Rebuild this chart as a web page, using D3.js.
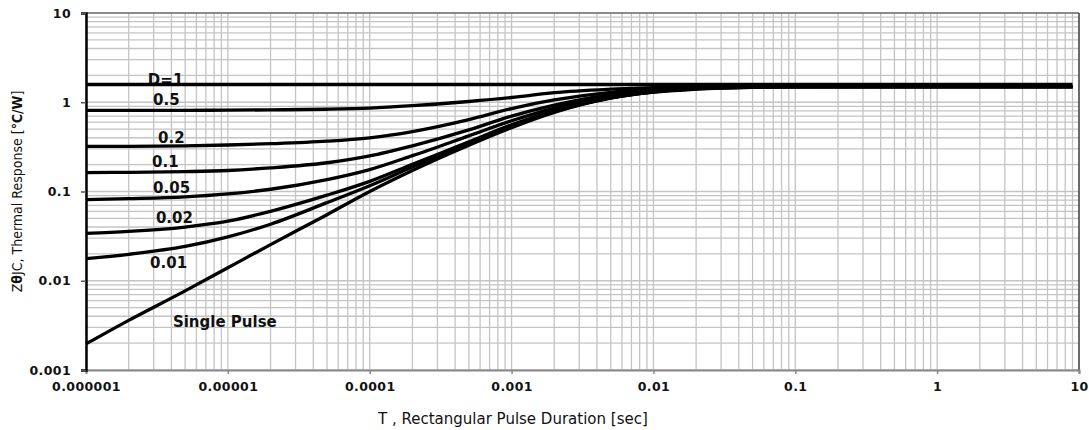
<!DOCTYPE html>
<html lang="en">
<head>
  <meta charset="UTF-8">
  <script src="https://d3js.org/d3.v7.min.js"></script>
  <title>Transient Thermal Response</title>
  <style>
    body { margin: 0; background: #fff; }
  </style>
</head>
<body>
  <script>
    // pulse durations (sec) where the curves were read
    const pulseT = [1e-6, 2e-6, 5e-6, 1e-5, 2e-5, 5e-5, 1e-4, 2e-4, 5e-4, 1e-3, 2e-3, 5e-3, 1e-2, 2e-2, 5e-2, 0.1, 1, 9]

    // Z thermal response (degC/W) for each duty cycle
    const dutyD1     = [1.58, 1.58, 1.58, 1.58, 1.58, 1.58, 1.58, 1.58, 1.58, 1.58, 1.58, 1.58, 1.58, 1.58, 1.58, 1.58, 1.58, 1.58]
    const duty05     = [0.81, 0.81, 0.812, 0.815, 0.822, 0.835, 0.86, 0.915, 1.02, 1.13, 1.28, 1.40, 1.46, 1.49, 1.50, 1.50, 1.50, 1.50]
    const duty02     = [0.32, 0.321, 0.325, 0.332, 0.343, 0.366, 0.40, 0.47, 0.64, 0.85, 1.06, 1.29, 1.40, 1.46, 1.49, 1.50, 1.50, 1.50]
    const duty01     = [0.163, 0.164, 0.167, 0.172, 0.184, 0.21, 0.25, 0.325, 0.49, 0.70, 0.93, 1.22, 1.36, 1.44, 1.49, 1.50, 1.50, 1.50]
    const duty005    = [0.081, 0.083, 0.087, 0.094, 0.106, 0.136, 0.176, 0.252, 0.42, 0.62, 0.86, 1.18, 1.34, 1.44, 1.49, 1.50, 1.50, 1.50]
    const duty002    = [0.034, 0.0357, 0.040, 0.0465, 0.060, 0.091, 0.130, 0.202, 0.36, 0.56, 0.80, 1.13, 1.31, 1.42, 1.48, 1.50, 1.50, 1.50]
    const duty001    = [0.0177, 0.0198, 0.0242, 0.031, 0.043, 0.075, 0.116, 0.188, 0.345, 0.54, 0.79, 1.12, 1.30, 1.41, 1.48, 1.50, 1.50, 1.50]
    const dutySingle = [0.00196, 0.0036, 0.0077, 0.014, 0.0254, 0.055, 0.10, 0.172, 0.33, 0.52, 0.77, 1.11, 1.30, 1.40, 1.47, 1.49, 1.50, 1.50]

    const seriesList = [dutyD1, duty05, duty02, duty01, duty005, duty002, duty001, dutySingle]

    // curve labels and where they sit (t, Z)
    const labelText = ["D=1", "0.5", "0.2", "0.1", "0.05", "0.02", "0.01", "Single Pulse"]
    const labelT = [2.73e-6, 2.97e-6, 3.22e-6, 2.92e-6, 2.97e-6, 3.11e-6, 2.83e-6, 4.1e-6]
    const labelZ = [1.55, 0.925, 0.346, 0.186, 0.095, 0.0438, 0.0140, 0.0030]

    const xTickLabels = ["0.000001", "0.00001", "0.0001", "0.001", "0.01", "0.1", "1", "10"]
    const yTickLabels = ["0.001", "0.01", "0.1", "1", "10"]

    const dimensions = {
      width: 1089,
      height: 430,
      margin: { top: 13, right: 10, bottom: 60, left: 86 }
    }
    dimensions.boundedWidth = dimensions.width - dimensions.margin.left - dimensions.margin.right
    dimensions.boundedHeight = dimensions.height - dimensions.margin.top - dimensions.margin.bottom

    const svg = d3.select("body")
        .append("svg")
        .attr("width", dimensions.width)
        .attr("height", dimensions.height)

    const bounds = svg.append("g")
        .attr("transform", `translate(${dimensions.margin.left},${dimensions.margin.top})`)

    const xScale = d3.scaleLog()
        .domain([1e-6, 10])
        .range([0, dimensions.boundedWidth])
    const yScale = d3.scaleLog()
        .domain([0.001, 10])
        .range([dimensions.boundedHeight, 0])

    // log grid: 1..9 in every decade
    const gridVals = (lo, hi) => {
      const out = []
      for (let e = Math.log10(lo); e < Math.log10(hi); e++) {
        for (let m = 1; m <= 9; m++) out.push(m * Math.pow(10, e))
      }
      out.push(hi)
      return out
    }

    bounds.append("g")
        .selectAll("line")
        .data(gridVals(1e-6, 10))
        .join("line")
        .attr("x1", d => xScale(d)).attr("x2", d => xScale(d))
        .attr("y1", 0).attr("y2", dimensions.boundedHeight)
        .attr("stroke", "#c4c4c4")
        .attr("stroke-width", 1.3)

    bounds.append("g")
        .selectAll("line")
        .data(gridVals(0.001, 10))
        .join("line")
        .attr("y1", d => yScale(d)).attr("y2", d => yScale(d))
        .attr("x1", 0).attr("x2", dimensions.boundedWidth)
        .attr("stroke", "#c4c4c4")
        .attr("stroke-width", 1.3)

    // frame: top and right dark grey
    bounds.append("line")
        .attr("x1", 0).attr("x2", dimensions.boundedWidth)
        .attr("y1", 0).attr("y2", 0)
        .attr("stroke", "#444").attr("stroke-width", 1.2)
    bounds.append("line")
        .attr("x1", dimensions.boundedWidth).attr("x2", dimensions.boundedWidth)
        .attr("y1", 0).attr("y2", dimensions.boundedHeight)
        .attr("stroke", "#444").attr("stroke-width", 1.5)

    // curve labels (drawn under the curves)
    bounds.append("g")
        .selectAll("text")
        .data(labelText)
        .join("text")
        .attr("x", (d, i) => xScale(labelT[i]))
        .attr("y", (d, i) => yScale(labelZ[i]))
        .attr("font-family", "DejaVu Sans, sans-serif")
        .attr("font-weight", "bold")
        .attr("font-size", 15)
        .attr("fill", "#111")
        .text(d => d)

    const line = d3.line()
        .x((d, i) => xScale(pulseT[i]))
        .y(d => yScale(d))
        .curve(d3.curveMonotoneX)

    bounds.append("g")
        .selectAll("path")
        .data(seriesList)
        .join("path")
        .attr("d", d => line(d))
        .attr("fill", "none")
        .attr("stroke", "#000")
        .attr("stroke-width", 3.3)

    // axes
    const xAxis = bounds.append("g")
        .attr("transform", `translate(0,${dimensions.boundedHeight})`)
        .call(d3.axisBottom(xScale)
          .tickValues(xTickLabels.map(Number))
          .tickFormat((d, i) => xTickLabels[i])
          .tickSizeOuter(0)
          .tickSize(4)
          .tickPadding(8))
    xAxis.select(".domain").attr("stroke", "#888").attr("stroke-width", 2)
    xAxis.selectAll(".tick line").attr("stroke", "#888").attr("stroke-width", 1.5)
    xAxis.selectAll("text")
        .attr("font-family", "DejaVu Sans, sans-serif")
        .attr("font-weight", "bold")
        .attr("font-size", 12.5)
        .attr("letter-spacing", 0.4)
        .attr("fill", "#111")

    const yAxis = bounds.append("g")
        .call(d3.axisLeft(yScale)
          .tickValues(yTickLabels.map(Number))
          .tickFormat((d, i) => yTickLabels[i])
          .tickSizeOuter(0)
          .tickSize(5)
          .tickPadding(10))
    yAxis.select(".domain").attr("stroke", "#000").attr("stroke-width", 2.5)
    yAxis.selectAll(".tick line").attr("stroke", "#555").attr("stroke-width", 1.5)
    yAxis.selectAll("text")
        .attr("font-family", "DejaVu Sans, sans-serif")
        .attr("font-weight", "bold")
        .attr("font-size", 12.5)
        .attr("letter-spacing", 0.4)
        .attr("fill", "#111")

    // axis titles
    svg.append("text")
        .attr("x", 378)
        .attr("y", 424)
        .attr("text-anchor", "start")
        .attr("font-family", "DejaVu Sans, sans-serif")
        .attr("font-size", 15)
        .attr("fill", "#111")
        .text("T , Rectangular Pulse Duration [sec]")

    const yTitle = svg.append("text")
        .attr("transform", `translate(22,${dimensions.margin.top + dimensions.boundedHeight / 2}) rotate(-90)`)
        .attr("text-anchor", "middle")
        .attr("font-family", "Liberation Sans Narrow, DejaVu Sans Condensed, sans-serif")
        .attr("font-size", 14)
        .attr("fill", "#111")
    yTitle.append("tspan").text("Z")
    yTitle.append("tspan").attr("font-weight", "bold").text("θ")
    yTitle.append("tspan").text("JC, Thermal Response [")
    yTitle.append("tspan").attr("font-weight", "bold").text("℃/W")
    yTitle.append("tspan").text("]")
  </script>
</body>
</html>
